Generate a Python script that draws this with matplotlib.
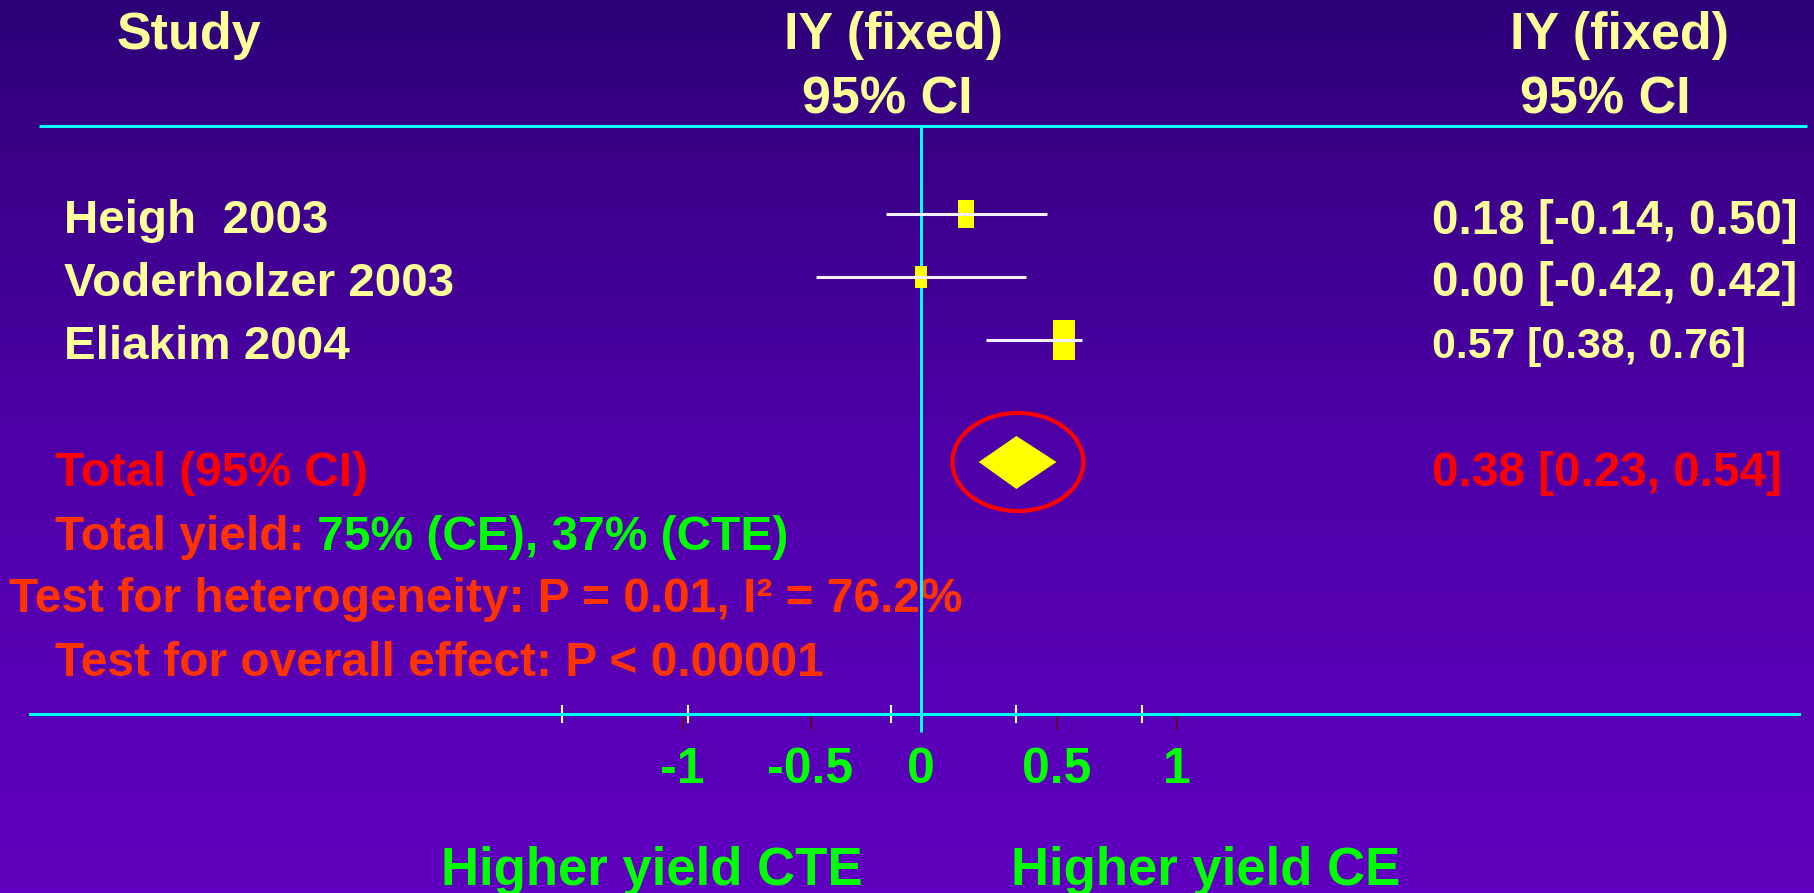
import numpy as np
import matplotlib
matplotlib.use("Agg")
import matplotlib.pyplot as plt
from matplotlib.colors import LinearSegmentedColormap
from matplotlib.patches import Ellipse, Rectangle, Polygon

plt.rcParams["font.family"] = ["Liberation Sans", "DejaVu Sans"]
plt.rcParams["font.weight"] = "bold"

# --- data ---
studies = ["Heigh  2003", "Voderholzer 2003", "Eliakim 2004"]
effect = [0.18, 0.00, 0.57]
ci_lo = [-0.14, -0.42, 0.26]      # whiskers as drawn on the slide
ci_hi = [0.50, 0.42, 0.64]
weights = [28.5, 17.5, 54.0]      # box size
ci_labels = ["0.18 [-0.14, 0.50]", "0.00 [-0.42, 0.42]", "0.57 [0.38, 0.76]"]

total_effect = 0.38
total_lo = 0.23
total_hi = 0.54
total_label = "0.38 [0.23, 0.54]"

tick_pos = [-0.95, -0.44, 0.0, 0.54, 1.02]
tick_labels = ["-1", "-0.5", "0", "0.5", "1"]
minor_pos = [-1.43, -0.93, -0.12, 0.38, 0.88]

# --- layout (pixels) ---
W, H = 1814, 893
X0 = 921          # pixel of effect = 0
UNIT = 251        # pixels per effect unit
row_y = [214, 277, 340]
total_y = 462
axis_y = 714
DY = 7            # text baseline nudge

YELLOW_TXT = "#FFFF99"
CYAN = "#00FFFF"
GREEN = "#00FF00"
RED = "#FF0000"
ORANGE = "#FF3300"


def px(p):
    return (p - X0) / UNIT


fig = plt.figure(figsize=(W / 100, H / 100), dpi=100)
ax = fig.add_axes([0, 0, 1, 1])

# background gradient
cmap = LinearSegmentedColormap.from_list(
    "bg", [(0, "#2C0078"), (0.17, "#3A0088"), (0.5, "#4E00A8"), (1, "#6000C0")])
grad = np.linspace(0, 1, 256).reshape(-1, 1)
ax.imshow(grad, extent=(px(0), px(W), H, 0), aspect="auto", cmap=cmap, zorder=0)
ax.set_xlim(px(0), px(W))
ax.set_ylim(H, 0)

# frame lines
ax.hlines(126, px(39), px(1807), color=CYAN, lw=2.2, zorder=3)
ax.vlines(0, 126, 732, color=CYAN, lw=2.2, zorder=4)

# study rows
for y, e, lo, hi, w in zip(row_y, effect, ci_lo, ci_hi, weights):
    bw = 3.0 * np.sqrt(w)
    bh = 1.8 * bw
    ax.add_patch(Rectangle((e - bw / UNIT / 2, y - bh / 2), bw / UNIT, bh,
                           facecolor="#FFFF00", edgecolor="none", zorder=5))
    ax.hlines(y, lo, hi, color="#F4F0FF", lw=2.2, zorder=6)

# pooled diamond and highlight ellipse
ax.add_patch(Polygon([(total_lo, total_y), (total_effect, total_y - 26),
                      (total_hi, total_y), (total_effect, total_y + 27)],
                     closed=True, facecolor="#FFFF00", edgecolor="none", zorder=5))
ax.add_patch(Ellipse((0.386, total_y), 131 / UNIT, 98, facecolor="none",
                     edgecolor=RED, lw=3, zorder=5))

# x axis
for s in ["top", "left", "right"]:
    ax.spines[s].set_visible(False)
ax.spines["bottom"].set_position(("data", axis_y))
ax.spines["bottom"].set_bounds(px(30), px(1799))
ax.spines["bottom"].set_color(CYAN)
ax.spines["bottom"].set_linewidth(2.2)
ax.yaxis.set_visible(False)
ax.set_xticks(tick_pos)
ax.set_xticklabels(tick_labels, fontsize=36, fontweight="bold", color=GREEN)
ax.set_xticks(minor_pos, minor=True)
ax.tick_params(axis="x", which="major", direction="out", length=11.5, width=1.5,
               color="#650040", pad=12)
ax.tick_params(axis="x", which="minor", direction="inout", length=13, width=1.5,
               color="white")
ax.xaxis.get_major_ticks()[2].tick1line.set_color(CYAN)

# headers
ax.text(px(117), 29 + DY, "Study", fontsize=37.5, color=YELLOW_TXT, ha="left", va="center")
ax.text(px(894), 29 + DY, "IY (fixed)", fontsize=37.5, color=YELLOW_TXT, ha="center", va="center")
ax.text(px(887), 93 + DY, "95% CI", fontsize=37.5, color=YELLOW_TXT, ha="center", va="center")
ax.text(px(1620), 29 + DY, "IY (fixed)", fontsize=37.5, color=YELLOW_TXT, ha="center", va="center")
ax.text(px(1605), 93 + DY, "95% CI", fontsize=37.5, color=YELLOW_TXT, ha="center", va="center")

# row labels
label_sizes = [34.3, 34.3, 30.8]
for y, name, lab, fs in zip(row_y, studies, ci_labels, label_sizes):
    ax.text(px(64), y + DY, name, fontsize=34.2, color=YELLOW_TXT, ha="left", va="center")
    ax.text(px(1432), y + DY, lab, fontsize=fs, color=YELLOW_TXT, ha="left", va="center")

# summary text
ax.text(px(55), 467 + DY, "Total (95% CI)", fontsize=34.5, color=RED, ha="left", va="center")
ax.text(px(1432), 467 + DY, total_label, fontsize=34.3, color=RED, ha="left", va="center")
t1 = ax.text(px(55), 530 + DY, "Total yield:", fontsize=34.5, color=ORANGE,
             ha="left", va="center")
ax.annotate(" 75% (CE), 37% (CTE)", xy=(1, 0.5), xycoords=t1, fontsize=34.5,
            color=GREEN, ha="left", va="center")
ax.text(px(9), 592 + DY, "Test for heterogeneity: P = 0.01, I² = 76.2%", fontsize=34.5,
        color=ORANGE, ha="left", va="center")
ax.text(px(55), 657 + DY, "Test for overall effect: P < 0.00001", fontsize=34.5,
        color=ORANGE, ha="left", va="center")

# direction labels
ax.text(px(441), 864 + DY, "Higher yield CTE", fontsize=38, color=GREEN, ha="left", va="center")
ax.text(px(1011), 864 + DY, "Higher yield CE", fontsize=38, color=GREEN, ha="left", va="center")

fig.savefig("out.png", dpi=100)
